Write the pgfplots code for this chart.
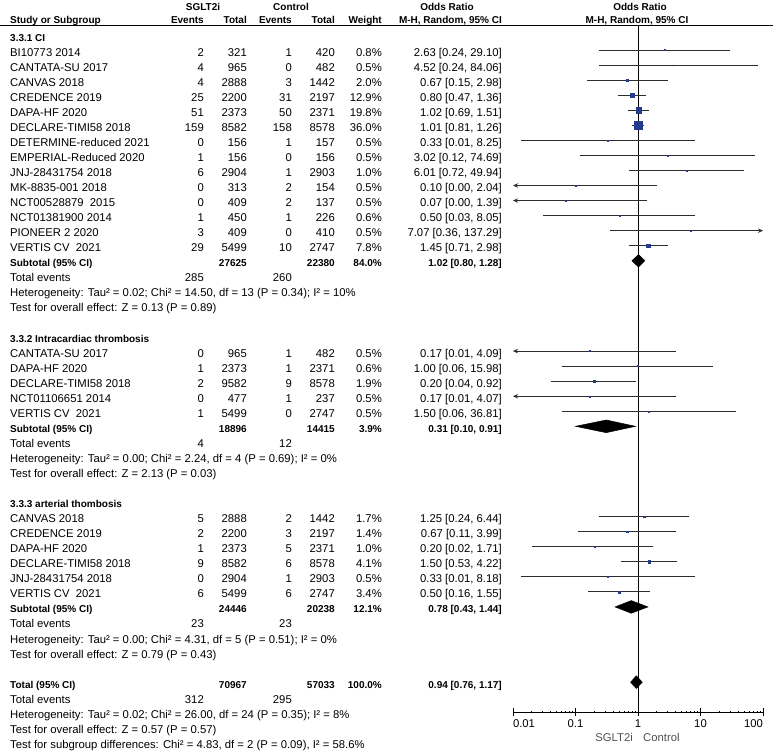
\documentclass[border=0pt]{standalone}
\usepackage{pgfplots}
\pgfplotsset{compat=1.18}
\usepackage{pgfplotstable}
\usepackage{fontspec}
\setmainfont{Liberation Sans}
\usetikzlibrary{arrows.meta}
\definecolor{sqblue}{RGB}{36,58,140}
\definecolor{cicol}{RGB}{45,45,45}
\definecolor{axgray}{RGB}{80,80,80}

% #1 style, #2 row, #3 name, #4 e1, #5 n1, #6 e2, #7 n2, #8 weight, #9 OR
\newcommand\srow[9][]{%
  \node[anchor=base west,#1] at (10,#2) {#3};
  \node[anchor=base east,#1] at (204,#2) {#4};
  \node[anchor=base east,#1] at (247,#2) {#5};
  \node[anchor=base east,#1] at (292,#2) {#6};
  \node[anchor=base east,#1] at (335,#2) {#7};
  \node[anchor=base east,#1] at (382,#2) {#8};
  \node[anchor=base east,#1] at (502,#2) {#9};
}
\newcommand\lrow[3][]{\node[anchor=base west,#1] at (10,#2) {#3};}

\pgfplotstableread{
r or ms
2 2.63 0.57
3 4.52 0.45
4 0.67 0.91
5 0.80 2.30
6 1.02 2.86
7 1.01 3.85
8 0.33 0.45
9 3.02 0.45
10 6.01 0.64
11 0.10 0.45
12 0.07 0.45
13 0.50 0.50
14 7.07 0.45
15 1.45 1.79
22 0.17 0.45
23 1.00 0.50
24 0.20 0.88
25 0.17 0.45
26 1.50 0.45
33 1.25 0.84
34 0.67 0.76
35 0.20 0.64
36 1.50 1.30
37 0.33 0.45
38 0.50 1.18
}\studies

\newcommand\ci[3]{\addplot[cicol, line width=0.8pt] coordinates {(#2,#1) (#3,#1)};}
\newcommand\cil[2]{\addplot[cicol, line width=0.8pt, -{Stealth[length=5pt,width=4.5pt]}] coordinates {(#2,#1) (0.01,#1)};}
\newcommand\cir[2]{\addplot[cicol, line width=0.8pt, -{Stealth[length=5pt,width=4.5pt]}] coordinates {(#2,#1) (100,#1)};}
\newcommand\dia[4]{\addplot[fill=black, draw=black, line width=0.5pt] coordinates {(#2,#1) (#3,#1-0.42) (#4,#1) (#3,#1+0.42)} --cycle;}

\begin{document}
\begin{tikzpicture}[font=\fontsize{11.3}{13}\selectfont]
\useasboundingbox (0pt,0pt) rectangle (773pt,-750pt);
\draw[line width=0.8pt] (0pt,-25pt) -- (773pt,-25pt);
\begin{scope}[x=1pt, y=-15.05pt, yshift=-25.95pt, every node/.style={inner sep=0pt}]
  % headers
  \node[anchor=base, font=\bfseries] at (203,-1) {SGLT2i};
  \node[anchor=base, font=\bfseries] at (291,-1) {Control};
  \node[anchor=base, font=\bfseries] at (447,-1) {Odds Ratio};
  \node[anchor=base, font=\bfseries] at (640,-1) {Odds Ratio};
  \srow[font=\bfseries]{-0.15}{Study or Subgroup}{Events}{Total}{Events}{Total}{Weight}{M-H, Random, 95\% CI}
  \node[anchor=base, font=\bfseries] at (637,-0.15) {M-H, Random, 95\% CI};
  % group 1
  \lrow[font=\bfseries]{1}{3.3.1 CI}
  \srow{2}{BI10773 2014}{2}{321}{1}{420}{0.8\%}{2.63 [0.24, 29.10]}
  \srow{3}{CANTATA-SU 2017}{4}{965}{0}{482}{0.5\%}{4.52 [0.24, 84.06]}
  \srow{4}{CANVAS 2018}{4}{2888}{3}{1442}{2.0\%}{0.67 [0.15, 2.98]}
  \srow{5}{CREDENCE 2019}{25}{2200}{31}{2197}{12.9\%}{0.80 [0.47, 1.36]}
  \srow{6}{DAPA-HF 2020}{51}{2373}{50}{2371}{19.8\%}{1.02 [0.69, 1.51]}
  \srow{7}{DECLARE-TIMI58 2018}{159}{8582}{158}{8578}{36.0\%}{1.01 [0.81, 1.26]}
  \srow{8}{DETERMINE-reduced 2021}{0}{156}{1}{157}{0.5\%}{0.33 [0.01, 8.25]}
  \srow{9}{EMPERIAL-Reduced 2020}{1}{156}{0}{156}{0.5\%}{3.02 [0.12, 74.69]}
  \srow{10}{JNJ-28431754 2018}{6}{2904}{1}{2903}{1.0\%}{6.01 [0.72, 49.94]}
  \srow{11}{MK-8835-001 2018}{0}{313}{2}{154}{0.5\%}{0.10 [0.00, 2.04]}
  \srow{12}{NCT00528879\ \ 2015}{0}{409}{2}{137}{0.5\%}{0.07 [0.00, 1.39]}
  \srow{13}{NCT01381900 2014}{1}{450}{1}{226}{0.6\%}{0.50 [0.03, 8.05]}
  \srow{14}{PIONEER 2 2020}{3}{409}{0}{410}{0.5\%}{7.07 [0.36, 137.29]}
  \srow{15}{VERTIS CV\ \ 2021}{29}{5499}{10}{2747}{7.8\%}{1.45 [0.71, 2.98]}
  \srow[font=\bfseries]{16}{Subtotal (95\% CI)}{}{27625}{}{22380}{84.0\%}{1.02 [0.80, 1.28]}
  \srow{17}{Total events}{285}{}{260}{}{}{}
  \lrow{18}{Heterogeneity: Tau² = 0.02; Chi² = 14.50, df = 13 (P = 0.34); I² = 10\%}
  \lrow{19}{Test for overall effect: Z = 0.13 (P = 0.89)}
  % group 2
  \lrow[font=\bfseries]{21}{3.3.2 Intracardiac thrombosis}
  \srow{22}{CANTATA-SU 2017}{0}{965}{1}{482}{0.5\%}{0.17 [0.01, 4.09]}
  \srow{23}{DAPA-HF 2020}{1}{2373}{1}{2371}{0.6\%}{1.00 [0.06, 15.98]}
  \srow{24}{DECLARE-TIMI58 2018}{2}{9582}{9}{8578}{1.9\%}{0.20 [0.04, 0.92]}
  \srow{25}{NCT01106651 2014}{0}{477}{1}{237}{0.5\%}{0.17 [0.01, 4.07]}
  \srow{26}{VERTIS CV\ \ 2021}{1}{5499}{0}{2747}{0.5\%}{1.50 [0.06, 36.81]}
  \srow[font=\bfseries]{27}{Subtotal (95\% CI)}{}{18896}{}{14415}{3.9\%}{0.31 [0.10, 0.91]}
  \srow{28}{Total events}{4}{}{12}{}{}{}
  \lrow{29}{Heterogeneity: Tau² = 0.00; Chi² = 2.24, df = 4 (P = 0.69); I² = 0\%}
  \lrow{30}{Test for overall effect: Z = 2.13 (P = 0.03)}
  % group 3
  \lrow[font=\bfseries]{32}{3.3.3 arterial thombosis}
  \srow{33}{CANVAS 2018}{5}{2888}{2}{1442}{1.7\%}{1.25 [0.24, 6.44]}
  \srow{34}{CREDENCE 2019}{2}{2200}{3}{2197}{1.4\%}{0.67 [0.11, 3.99]}
  \srow{35}{DAPA-HF 2020}{1}{2373}{5}{2371}{1.0\%}{0.20 [0.02, 1.71]}
  \srow{36}{DECLARE-TIMI58 2018}{9}{8582}{6}{8578}{4.1\%}{1.50 [0.53, 4.22]}
  \srow{37}{JNJ-28431754 2018}{0}{2904}{1}{2903}{0.5\%}{0.33 [0.01, 8.18]}
  \srow{38}{VERTIS CV\ \ 2021}{6}{5499}{6}{2747}{3.4\%}{0.50 [0.16, 1.55]}
  \srow[font=\bfseries]{39}{Subtotal (95\% CI)}{}{24446}{}{20238}{12.1\%}{0.78 [0.43, 1.44]}
  \srow{40}{Total events}{23}{}{23}{}{}{}
  \lrow{41}{Heterogeneity: Tau² = 0.00; Chi² = 4.31, df = 5 (P = 0.51); I² = 0\%}
  \lrow{42}{Test for overall effect: Z = 0.79 (P = 0.43)}
  % total
  \srow[font=\bfseries]{44}{Total (95\% CI)}{}{70967}{}{57033}{100.0\%}{0.94 [0.76, 1.17]}
  \srow{45}{Total events}{312}{}{295}{}{}{}
  \lrow{46}{Heterogeneity: Tau² = 0.02; Chi² = 26.00, df = 24 (P = 0.35); I² = 8\%}
  \lrow{47}{Test for overall effect: Z = 0.57 (P = 0.57)}
  \lrow{48}{Test for subgroup differences: Chi² = 4.83, df = 2 (P = 0.09), I² = 58.6\%}
\end{scope}
\node[anchor=base east, inner sep=0pt, text=axgray] at (633pt,-741pt) {SGLT2i};
\node[anchor=base west, inner sep=0pt, text=axgray] at (643pt,-741pt) {Control};
\begin{axis}[
  at={(513pt,-712pt)}, anchor=south west,
  scale only axis, width=250pt, height=687pt,
  xmode=log, xmin=0.01, xmax=100,
  ymin=0.3355, ymax=45.983, y dir=reverse,
  axis x line*=bottom, axis y line=none,
  xtick={0.01,0.1,1,10,100},
  xticklabels={\makebox[0pt][l]{0.01},0.1,1,10,\makebox[0pt][r]{100}},
  minor xtick={}, tick align=center, major tick length=8pt,
  tick style={black, line width=0.8pt},
  axis line style={black, line width=0.8pt},
  xticklabel style={font=\fontsize{11.3}{13}\selectfont, inner sep=1pt, yshift=-2.5pt},
  clip=false,
]
\addplot[black, line width=0.8pt] coordinates {(1,0.3355) (1,45.983)};
\ci{2}{0.24}{29.10}
\ci{3}{0.24}{84.06}
\ci{4}{0.15}{2.98}
\ci{5}{0.47}{1.36}
\ci{6}{0.69}{1.51}
\ci{7}{0.81}{1.26}
\ci{8}{0.0134}{8.25}
\ci{9}{0.12}{74.69}
\ci{10}{0.72}{49.94}
\cil{11}{2.04}
\cil{12}{1.39}
\ci{13}{0.03}{8.05}
\cir{14}{0.36}
\ci{15}{0.71}{2.98}
\cil{22}{4.09}
\ci{23}{0.06}{15.98}
\ci{24}{0.04}{0.92}
\cil{25}{4.07}
\ci{26}{0.06}{36.81}
\ci{33}{0.24}{6.44}
\ci{34}{0.11}{3.99}
\ci{35}{0.02}{1.71}
\ci{36}{0.53}{4.22}
\ci{37}{0.0134}{8.18}
\ci{38}{0.16}{1.55}
\addplot[scatter, only marks, mark=square*,
  scatter/use mapped color={draw=sqblue, fill=sqblue},
  visualization depends on={\thisrow{ms}\as\msz},
  scatter/@pre marker code/.append style={/tikz/mark size=\msz pt},
  mark options={line width=0.3pt}]
  table[x=or, y=r] {\studies};
\dia{16}{0.80}{1.02}{1.28}
\dia{27}{0.10}{0.31}{0.91}
\dia{39}{0.43}{0.78}{1.44}
\dia{44}{0.76}{0.94}{1.17}
\end{axis}
\end{tikzpicture}
\end{document}
